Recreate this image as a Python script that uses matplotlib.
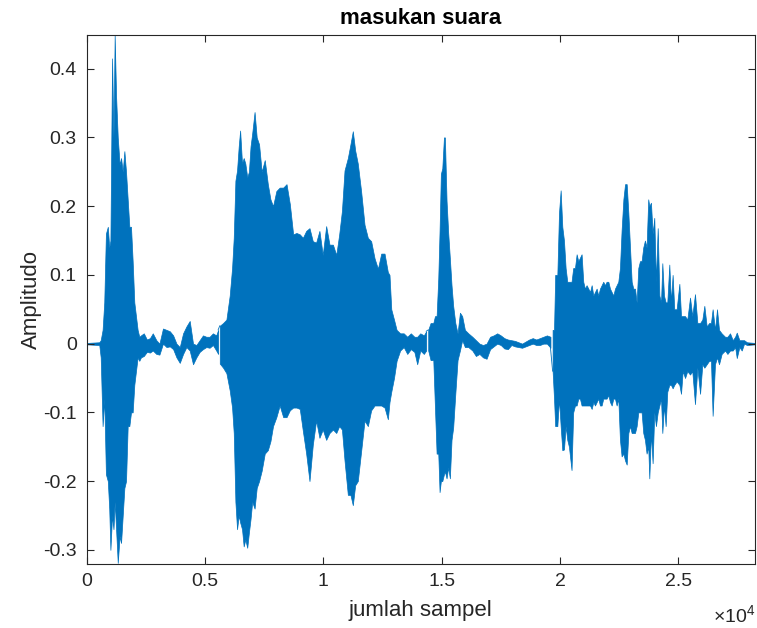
import numpy as np
import matplotlib
matplotlib.use("Agg")
import matplotlib.pyplot as plt

plt.rcParams["font.family"] = ["Liberation Sans", "DejaVu Sans"]
plt.rcParams["mathtext.fontset"] = "custom"
plt.rcParams["mathtext.rm"] = "Liberation Sans"
plt.rcParams["axes.unicode_minus"] = False

# waveform envelope: sample index, upper and lower amplitude
# syllable 1 (onset + following pause)
syl1_x = [0, 540, 600, 680, 750, 820, 900, 960, 1010, 1080, 1140, 1190, 1250, 1320,
          1400, 1460, 1530, 1600, 1670, 1740, 1810, 1880, 1950, 2020, 2090, 2160, 2230,
          2300, 2420, 2550, 2680, 2800, 2950, 3080, 3230, 3380, 3520, 3660, 3800, 3940,
          4080, 4220, 4360, 4500, 4640, 4780, 4920, 5060, 5200, 5340, 5480, 5560]
syl1_hi = [0.001, 0.002, 0.005, 0.02, 0.06, 0.16, 0.17, 0.14, 0.15, 0.415, 0.30, 0.449,
           0.36, 0.30, 0.26, 0.27, 0.25, 0.28, 0.25, 0.21, 0.17, 0.17, 0.12, 0.06, 0.04,
           0.02, 0.01, 0.012, 0.015, 0.006, 0.008, 0.015, 0.005, 0.0, 0.022, 0.02, 0.018,
           0.012, 0.0, -0.005, 0.015, 0.025, 0.033, 0.0, -0.002, 0.005, 0.012, 0.01, 0.01,
           0.015, 0.012, 0.02]
syl1_lo = [-0.001, -0.002, -0.02, -0.12, -0.08, -0.19, -0.20, -0.24, -0.30, -0.25, -0.27,
           -0.23, -0.27, -0.319, -0.28, -0.29, -0.25, -0.21, -0.20, -0.12, -0.12, -0.10,
           -0.10, -0.06, -0.04, -0.02, -0.025, -0.02, -0.018, -0.012, -0.013, -0.01, -0.015,
           -0.016, 0.0, -0.005, -0.004, -0.008, -0.02, -0.028, -0.015, -0.005, -0.01, -0.03,
           -0.02, -0.012, -0.008, -0.005, -0.006, -0.002, -0.01, -0.015]

# syllable 2 (long vowel) + pause
syl2_x = [5630, 5770, 5910, 6050, 6150, 6220, 6290, 6360, 6430, 6490, 6570, 6640, 6710,
          6790, 6860, 6930, 7000, 7100, 7190, 7290, 7400, 7530, 7660, 7770, 7880, 8020,
          8160, 8310, 8450, 8590, 8730, 8870, 9010, 9140, 9280, 9420, 9560, 9700, 9840,
          9980, 10125, 10265, 10410, 10550, 10675, 10790, 10900, 11040, 11150, 11250,
          11350, 11460, 11600, 11745, 11885, 12025, 12170, 12310, 12450, 12590, 12730,
          12800, 12875, 12990, 13100, 13250, 13400, 13550, 13700, 13850, 13970, 14100,
          14250, 14350]
syl2_hi = [0.026, 0.03, 0.035, 0.07, 0.11, 0.154, 0.237, 0.252, 0.287, 0.31, 0.262, 0.27,
           0.262, 0.242, 0.25, 0.287, 0.306, 0.337, 0.30, 0.29, 0.25, 0.267, 0.232, 0.21,
           0.20, 0.222, 0.227, 0.227, 0.232, 0.203, 0.159, 0.161, 0.159, 0.154, 0.164,
           0.168, 0.149, 0.147, 0.164, 0.129, 0.171, 0.144, 0.144, 0.129, 0.159, 0.193,
           0.252, 0.27, 0.29, 0.309, 0.281, 0.262, 0.222, 0.173, 0.154, 0.149, 0.124,
           0.109, 0.131, 0.131, 0.104, 0.10, 0.05, 0.035, 0.02, 0.015, 0.015, 0.01, 0.015,
           0.01, 0.01, 0.015, 0.012, 0.018]
syl2_lo = [-0.029, -0.035, -0.043, -0.068, -0.093, -0.13, -0.23, -0.27, -0.25, -0.26,
           -0.27, -0.295, -0.285, -0.297, -0.275, -0.255, -0.23, -0.24, -0.21, -0.20,
           -0.185, -0.16, -0.155, -0.142, -0.12, -0.107, -0.09, -0.107, -0.107, -0.097,
           -0.093, -0.093, -0.095, -0.127, -0.16, -0.20, -0.147, -0.112, -0.137, -0.125,
           -0.14, -0.13, -0.125, -0.13, -0.12, -0.125, -0.17, -0.22, -0.22, -0.235,
           -0.206, -0.20, -0.157, -0.112, -0.12, -0.097, -0.09, -0.09, -0.09, -0.093,
           -0.11, -0.085, -0.07, -0.05, -0.025, -0.01, -0.005, -0.015, -0.008, -0.012,
           -0.03, -0.01, -0.015, -0.01]

# syllable 3 (short burst) + pause
syl3_x = [14435, 14535, 14650, 14720, 14790, 14860, 14915, 14970, 15030, 15100, 15140,
          15210, 15280, 15350, 15420, 15490, 15580, 15675, 15775, 15870, 15985, 16130,
          16300, 16450, 16600, 16750, 16900, 17050, 17200, 17350, 17500, 17650, 17800,
          17950, 18100, 18250, 18400, 18550, 18700, 18850, 19000, 19150, 19300, 19450,
          19600]
syl3_hi = [0.02, 0.03, 0.03, 0.04, 0.04, 0.095, 0.164, 0.247, 0.255, 0.30, 0.30, 0.208,
           0.161, 0.124, 0.085, 0.055, 0.03, 0.015, 0.045, 0.04, 0.02, 0.015, 0.01, 0.005,
           0.0, -0.002, 0.0, 0.01, 0.012, 0.015, 0.012, 0.008, 0.006, 0.005, 0.004, 0.002,
           0.0, 0.003, 0.006, 0.008, 0.006, 0.008, 0.01, 0.012, 0.01]
syl3_lo = [-0.01, -0.024, -0.024, -0.093, -0.16, -0.16, -0.216, -0.20, -0.20, -0.19,
           -0.186, -0.196, -0.18, -0.196, -0.14, -0.122, -0.073, -0.024, -0.01, 0.005,
           -0.005, -0.005, -0.01, -0.018, -0.015, -0.02, -0.022, -0.008, -0.004, 0.0,
           -0.002, -0.007, -0.008, -0.002, -0.004, -0.005, -0.006, -0.004, -0.002, 0.0,
           -0.002, -0.002, 0.0, 0.0, -0.006]

# syllable 4 (last word) + trailing silence
syl4_x = [19690, 19750, 19800, 19890, 19960, 20030, 20100, 20170, 20240, 20310, 20380,
          20490, 20560, 20635, 20705, 20775, 20845, 20915, 20985, 21055, 21125, 21200,
          21270, 21340, 21410, 21480, 21550, 21620, 21690, 21760, 21830, 21900, 21970,
          22045, 22115, 22185, 22255, 22325, 22395, 22465, 22535, 22605, 22680, 22750,
          22820, 22890, 22960, 23030, 23100, 23170, 23240, 23310, 23380, 23450, 23520,
          23590, 23660, 23730, 23775, 23845, 23915, 23985, 24055, 24130, 24200, 24270,
          24325, 24395, 24465, 24535, 24620, 24690, 24760, 24830, 24930, 25045, 25115,
          25185, 25285, 25380, 25495, 25590, 25705, 25805, 25920, 26015, 26100, 26200,
          26300, 26380, 26450, 26550, 26635, 26720, 26830, 26975, 27075, 27185, 27300,
          27400, 27470, 27580, 27680, 27780, 27900, 28240]
syl4_hi = [0.02, 0.02, 0.10, 0.10, 0.19, 0.223, 0.17, 0.15, 0.11, 0.09, 0.09, 0.09, 0.11,
           0.11, 0.13, 0.12, 0.125, 0.13, 0.09, 0.08, 0.085, 0.08, 0.075, 0.085, 0.07,
           0.075, 0.08, 0.07, 0.08, 0.085, 0.09, 0.085, 0.09, 0.09, 0.08, 0.075, 0.07,
           0.08, 0.085, 0.09, 0.11, 0.165, 0.21, 0.232, 0.232, 0.19, 0.14, 0.09, 0.08,
           0.08, 0.06, 0.11, 0.12, 0.12, 0.14, 0.15, 0.14, 0.21, 0.20, 0.205, 0.16, 0.183,
           0.09, 0.168, 0.07, 0.06, 0.117, 0.07, 0.06, 0.06, 0.115, 0.06, 0.10, 0.05, 0.05,
           0.087, 0.04, 0.04, 0.04, 0.035, 0.067, 0.04, 0.072, 0.03, 0.03, 0.035, 0.055,
           0.025, 0.03, 0.03, 0.05, 0.02, 0.05, 0.02, 0.015, 0.01, 0.01, 0.015, 0.005,
           0.01, 0.016, 0.005, 0.005, 0.005, 0.002, 0.001]
syl4_lo = [-0.04, -0.08, -0.12, -0.12, -0.08, -0.12, -0.155, -0.154, -0.12, -0.14, -0.15,
           -0.184, -0.10, -0.09, -0.09, -0.08, -0.08, -0.09, -0.09, -0.09, -0.09, -0.09,
           -0.09, -0.095, -0.085, -0.09, -0.085, -0.08, -0.09, -0.09, -0.08, -0.08, -0.08,
           -0.075, -0.085, -0.09, -0.08, -0.08, -0.09, -0.08, -0.14, -0.164, -0.16, -0.17,
           -0.176, -0.13, -0.12, -0.13, -0.13, -0.13, -0.12, -0.10, -0.10, -0.10, -0.13,
           -0.14, -0.16, -0.15, -0.196, -0.13, -0.174, -0.10, -0.12, -0.10, -0.09, -0.08,
           -0.13, -0.09, -0.12, -0.07, -0.06, -0.06, -0.065, -0.06, -0.055, -0.06, -0.073,
           -0.04, -0.05, -0.04, -0.045, -0.04, -0.088, -0.035, -0.073, -0.03, -0.035,
           -0.03, -0.025, -0.025, -0.105, -0.03, -0.02, -0.03, -0.015, -0.01, -0.015,
           -0.01, -0.01, -0.005, -0.021, -0.005, -0.01, 0.0, -0.002, -0.001]

xtick_vals = [0, 5000, 10000, 15000, 20000, 25000]
xtick_labels = ["0", "0.5", "1", "1.5", "2", "2.5"]
ytick_vals = [-0.3, -0.2, -0.1, 0, 0.1, 0.2, 0.3, 0.4]
ytick_labels = ["-0.3", "-0.2", "-0.1", "0", "0.1", "0.2", "0.3", "0.4"]

LINE = "#0072BD"
AX = "#262626"

fig = plt.figure(figsize=(7.57, 6.28), dpi=100)
ax = fig.add_axes([86.5 / 757, 1 - 563.6 / 628, (755 - 86.5) / 757, (563.6 - 35) / 628])

for sx, hi, lo in [(syl1_x, syl1_hi, syl1_lo), (syl2_x, syl2_hi, syl2_lo),
                   (syl3_x, syl3_hi, syl3_lo), (syl4_x, syl4_hi, syl4_lo)]:
    ax.fill_between(sx, lo, hi, facecolor=LINE, edgecolor=LINE, lw=0.5)

# join the segments so the trace stays continuous
joins = [(syl1_x[-1], syl2_x[0], syl1_hi[-1], syl2_hi[0]),
         (syl2_x[-1], syl3_x[0], syl2_hi[-1], syl3_hi[0]),
         (syl3_x[-1], syl4_x[0], syl3_lo[-1], syl4_lo[0])]
for x0, x1, y0, y1 in joins:
    ax.plot([x0, x1], [y0, y1], color=LINE, lw=0.6)

ax.set_xlim(0, 28240)
ax.set_ylim(-0.320, 0.449)
ax.set_xticks(xtick_vals)
ax.set_xticklabels(xtick_labels)
ax.set_yticks(ytick_vals)
ax.set_yticklabels(ytick_labels)
ax.tick_params(direction="in", length=5, width=0.8, colors=AX, labelsize=14,
               top=True, right=True, pad=7)
for s in ax.spines.values():
    s.set_color(AX)
    s.set_linewidth(0.8)

ax.set_title("masukan suara", fontsize=16, fontweight="bold", color="black", pad=8)
ax.set_xlabel("jumlah sampel", fontsize=16, color=AX, labelpad=7)
ax.set_ylabel("Amplitudo", fontsize=16, color=AX, labelpad=1)
fig.text(755 / 757, 1 / 628, r"$\times10^{4}$", ha="right", va="bottom",
         fontsize=14, color=AX)

fig.savefig("out.png", dpi=100)
